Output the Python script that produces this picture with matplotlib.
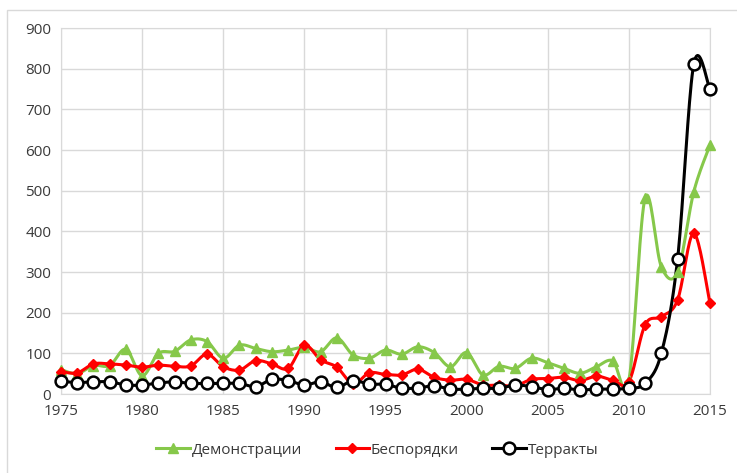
import numpy as np
import matplotlib.pyplot as plt
from matplotlib.patches import Rectangle

years = np.arange(1975, 2016)

demonstrations = [60, 50, 70, 70, 110, 45, 100, 105, 133, 129,
                  88, 120, 112, 104, 108, 115, 104, 138, 96, 88,
                  108, 98, 116, 102, 67, 102, 47, 68, 63, 88,
                  77, 63, 51, 67, 82, 34, 482, 313, 300, 497, 612]
riots = [55, 52, 74, 74, 71, 66, 71, 68, 69, 98,
         67, 59, 82, 74, 63, 120, 84, 66, 25, 52,
         48, 47, 61, 41, 34, 36, 22, 22, 20, 36,
         38, 41, 33, 44, 34, 30, 170, 190, 231, 395, 223]
attacks = [31, 28, 30, 30, 22, 22, 27, 30, 26, 26,
           26, 26, 18, 36, 33, 22, 30, 16, 33, 24,
           24, 14, 15, 20, 12, 12, 14, 14, 22, 18,
           11, 14, 10, 12, 12, 14, 26, 100, 331, 811, 749]

labels = ['Демонстрации', 'Беспорядки', 'Терракты']


def smooth(x, y, n=20):
    # Excel-like smoothed line: Catmull-Rom bezier between points
    x = np.asarray(x, float)
    y = np.asarray(y, float)
    P = np.column_stack([x, y])
    P = np.vstack([P[0], P, P[-1]])
    out = []
    t = np.linspace(0, 1, n)[:, None]
    for i in range(1, len(P) - 2):
        p0, p1, p2, p3 = P[i - 1], P[i], P[i + 1], P[i + 2]
        c1 = p1 + (p2 - p0) / 6
        c2 = p2 - (p3 - p1) / 6
        seg = ((1 - t) ** 3) * p1 + 3 * ((1 - t) ** 2) * t * c1 \
            + 3 * (1 - t) * t ** 2 * c2 + t ** 3 * p2
        out.append(seg if i == 1 else seg[1:])
    out = np.vstack(out)
    return out[:, 0], out[:, 1]


plt.rcParams['font.family'] = ['Open Sans', 'DejaVu Sans']

fig = plt.figure(figsize=(7.37, 4.73), dpi=100)
ax = fig.add_axes([61 / 737, 79 / 473, 649 / 737, 366 / 473])

fig.patches.append(Rectangle((7 / 737, -0.1), 1.2, (463 / 473) + 0.1,
                             transform=fig.transFigure, fill=False,
                             edgecolor='#d9d9d9', lw=1))

green = '#86c84a'
series = [
    (demonstrations, green, dict(marker='^', ms=7, mfc=green, mec=green)),
    (riots, '#ff0000', dict(marker='D', ms=5, mfc='#ff0000', mec='#ff0000')),
    (attacks, 'black', dict(marker='o', ms=8.5, mfc='white', mec='black', mew=1.8)),
]

handles = []
for (vals, col, mk), lab in zip(series, labels):
    sx, sy = smooth(years, vals)
    ax.plot(sx, sy, color=col, lw=2.2, clip_on=False, zorder=3)
    ax.plot(years, vals, ls='none', clip_on=False, zorder=4, **mk)
    h, = ax.plot([], [], color=col, lw=2.2, **mk)
    handles.append(h)

ax.set_xlim(1975, 2015)
ax.set_ylim(0, 900)
ax.set_xticks(range(1975, 2016, 5))
ax.set_yticks(range(0, 901, 100))
ax.grid(True, color='#d9d9d9', lw=1)
ax.set_axisbelow(True)
for s in ax.spines.values():
    s.set_color('#d9d9d9')
ax.tick_params(length=0, labelsize=11, labelcolor='#3a3a3a', pad=7)

fig.legend(handles, labels, loc='center', bbox_to_anchor=(0.512, 0.048),
           ncol=3, frameon=False, fontsize=11, handlelength=2.2,
           handletextpad=0.1, columnspacing=2.2, labelcolor='#3a3a3a')

fig.savefig('out.png', dpi=100)
